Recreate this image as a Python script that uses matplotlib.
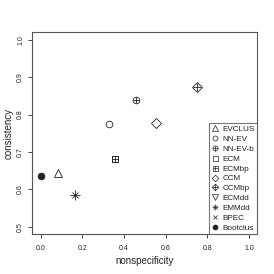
import matplotlib
matplotlib.use('Agg')
import matplotlib.pyplot as plt
from matplotlib.lines import Line2D
from matplotlib.legend_handler import HandlerTuple

# Datos
methods = ['EVCLUS', 'NN-EV', 'NN-EV-b', 'ECM', 'ECMbp', 'CCM', 'CCMbp',
           'ECMdd', 'EMMdd', 'BPEC', 'Bootclus']
nonspecificity = [0.082, 0.329, 0.460, 0.358, 0.358, 0.556, 0.749,
                  None, 0.166, None, 0.0]
consistency = [0.643, 0.776, 0.838, 0.681, 0.681, 0.777, 0.875,
               None, 0.585, None, 0.637]

# simbolos tipo pch de R: (marcador base, marcador superpuesto, relleno)
symbols = {
    'EVCLUS': ('^', None, False),
    'NN-EV': ('o', None, False),
    'NN-EV-b': ('o', '+', False),
    'ECM': ('s', None, False),
    'ECMbp': ('s', '+', False),
    'CCM': ('D', None, False),
    'CCMbp': ('D', '+', False),
    'ECMdd': ('v', None, False),
    'EMMdd': ('*', None, False),
    'BPEC': ('x', None, False),
    'Bootclus': ('o', None, True),
}

# tamanos (pt) en el grafico y en la leyenda
plot_size = {'^': 6.0, 'o': 4.8, 's': 4.4, 'D': 4.6, 'v': 6.0, 'x': 4.0, '*': 5.5}
plus_size = {'o': 4.8, 's': 4.4, 'D': 6.4}
leg_size = {'^': 4.3, 'o': 3.6, 's': 3.6, 'D': 3.4, 'v': 4.3, 'x': 3.4, '*': 4.0}
leg_plus = {'o': 3.6, 's': 3.6, 'D': 4.8}

plt.rcParams['font.family'] = ['Liberation Sans', 'DejaVu Sans']
ink = '#222222'


def draw(ax, x, y, m, size, filled, lw=0.6):
    if m == '*':
        # asterisco de R: cruz + aspa
        a = ax.plot(x, y, linestyle='none', marker='+', markersize=size * 1.2,
                    markeredgecolor=ink, markeredgewidth=lw)[0]
        b = ax.plot(x, y, linestyle='none', marker='x', markersize=size * 0.85,
                    markeredgecolor=ink, markeredgewidth=lw)[0]
        return [a, b]
    line = ax.plot(x, y, linestyle='none', marker=m, markersize=size,
                   markerfacecolor=ink if filled else 'none',
                   markeredgecolor=ink, markeredgewidth=lw)[0]
    return [line]


def legend_handle(m, extra, filled):
    parts = []
    marks = ['+', 'x'] if m == '*' else [m]
    for mm in marks:
        s = leg_size[m] * (1.2 if mm == '+' else 0.85 if m == '*' else 1.0)
        parts.append(Line2D([], [], linestyle='none', marker=mm, markersize=s,
                            markerfacecolor=ink if filled else 'none',
                            markeredgecolor=ink, markeredgewidth=0.5))
    if extra:
        parts.append(Line2D([], [], linestyle='none', marker=extra,
                            markersize=leg_plus[m], markeredgecolor=ink,
                            markeredgewidth=0.5))
    return tuple(parts)


fig = plt.figure(figsize=(2.74, 2.74), dpi=100)
ax = fig.add_axes([0.118, 0.145, 0.821, 0.737])

handles = []
for name, x, y in zip(methods, nonspecificity, consistency):
    base, extra, filled = symbols[name]
    xs = [x] if x is not None else []
    ys = [y] if y is not None else []
    draw(ax, xs, ys, base, plot_size[base], filled)
    if extra:
        draw(ax, xs, ys, extra, plus_size[base], False)
    handles.append(legend_handle(base, extra, filled))

ax.set_xlim(-0.04, 1.04)
ax.set_ylim(0.48, 1.02)
ax.set_xticks([0.0, 0.2, 0.4, 0.6, 0.8, 1.0])
ax.set_yticks([0.5, 0.6, 0.7, 0.8, 0.9, 1.0])
ax.set_xticklabels(['0.0', '0.2', '0.4', '0.6', '0.8', '1.0'])
ax.set_yticklabels(['0.5', '0.6', '0.7', '0.8', '0.9', '1.0'])
ax.tick_params(labelsize=5, colors=ink, length=3, width=0.6)
ax.tick_params(axis='x', pad=5)
ax.tick_params(axis='y', pad=3)
for lab in ax.get_yticklabels():
    lab.set_rotation(90)
    lab.set_verticalalignment('center')
for s in ax.spines.values():
    s.set_color('#555555')
    s.set_linewidth(0.8)

ax.set_xlabel('nonspecificity', fontsize=7, color=ink)
ax.set_ylabel('consistency', fontsize=7, color=ink)
ax.xaxis.set_label_coords(0.5, -0.11)
ax.yaxis.set_label_coords(-0.084, 0.5)

leg = ax.legend(handles, methods, loc='lower right', borderaxespad=0,
                fontsize=5.9, labelspacing=0.26, handlelength=0.9,
                handletextpad=0.5, borderpad=0.3, fancybox=False,
                frameon=True, edgecolor='#555555',
                handler_map={tuple: HandlerTuple(ndivide=1, pad=0)})
leg.get_frame().set_linewidth(0.8)
for t in leg.get_texts():
    t.set_color(ink)

fig.savefig('out.png', dpi=100)
